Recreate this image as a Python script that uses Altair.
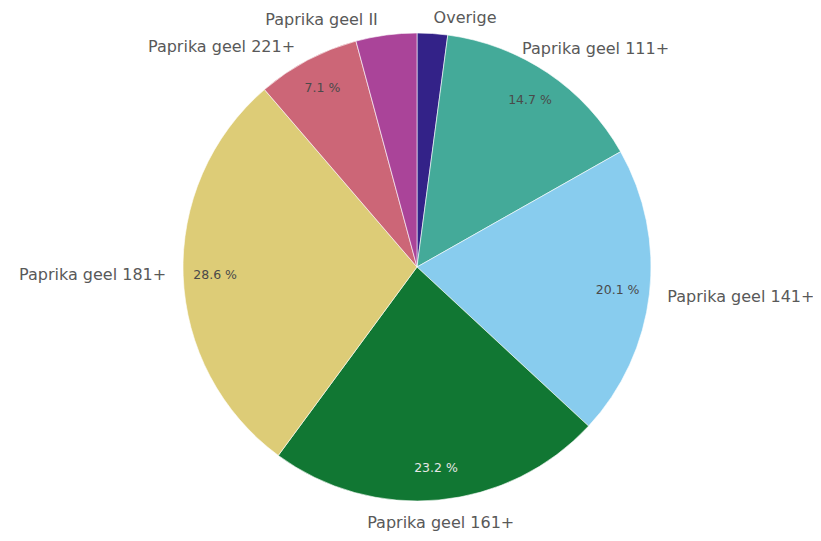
import altair as alt
import pandas as pd

categories = ["Overige", "Paprika geel 111+", "Paprika geel 141+", "Paprika geel 161+",
              "Paprika geel 181+", "Paprika geel 221+", "Paprika geel II"]
values = [2.1, 14.7, 20.1, 23.2, 28.6, 7.1, 4.2]
colors = ["#332288", "#44AA99", "#88CCEE", "#117733", "#DDCC77", "#CC6677", "#AA4499"]

df = pd.DataFrame({
    "category": categories,
    "value": values,
    "ord": list(range(len(categories))),
})
df["pct"] = df["value"].map(lambda v: f"{v:.1f} %")

CX, CY = 409, 259
FONT = "DejaVu Sans"

base = alt.Chart(df).encode(
    theta=alt.Theta("value:Q", stack=True),
    order=alt.Order("ord:Q"),
    x=alt.value(CX),
    y=alt.value(CY),
)

arcs = base.mark_arc(outerRadius=234, stroke="white", strokeWidth=0.6).encode(
    color=alt.Color("category:N", scale=alt.Scale(domain=categories, range=colors), legend=None)
)

inner = base.mark_text(radius=202, font=FONT, fontSize=12.5, align="center", baseline="middle").encode(
    text="pct:N",
    color=alt.condition(alt.datum.category == "Paprika geel 161+", alt.value("#e6e6e6"), alt.value("#4a4a4a")),
    opacity=alt.condition(alt.datum.value >= 5, alt.value(1), alt.value(0)),
)

label_groups = [
    (["Overige"], "left", 0, 2),
    (["Paprika geel 141+"], "left", 0, 1),
    (["Paprika geel 111+"], "left", -36, -9),
    (["Paprika geel 161+"], "center", 0, 5),
    (["Paprika geel 181+"], "right", 1, -1),
    (["Paprika geel 221+"], "right", -4, 3),
    (["Paprika geel II"], "right", -6, 3),
]

layers = [arcs, inner]
for cats, align, dx, dy in label_groups:
    layers.append(
        base.mark_text(radius=252, font=FONT, fontSize=16, align=align, baseline="middle",
                       dx=dx, dy=dy, color="#595959")
        .encode(text="category:N", opacity=alt.condition(
            alt.FieldOneOfPredicate(field="category", oneOf=cats), alt.value(1), alt.value(0)))
    )

chart = alt.layer(*layers).properties(
    width=805, height=525, autosize=alt.AutoSizeParams(type="none"), padding=0
).configure_view(stroke=None)

chart.save("out.html", embed_options={"renderer": "svg", "actions": False})
